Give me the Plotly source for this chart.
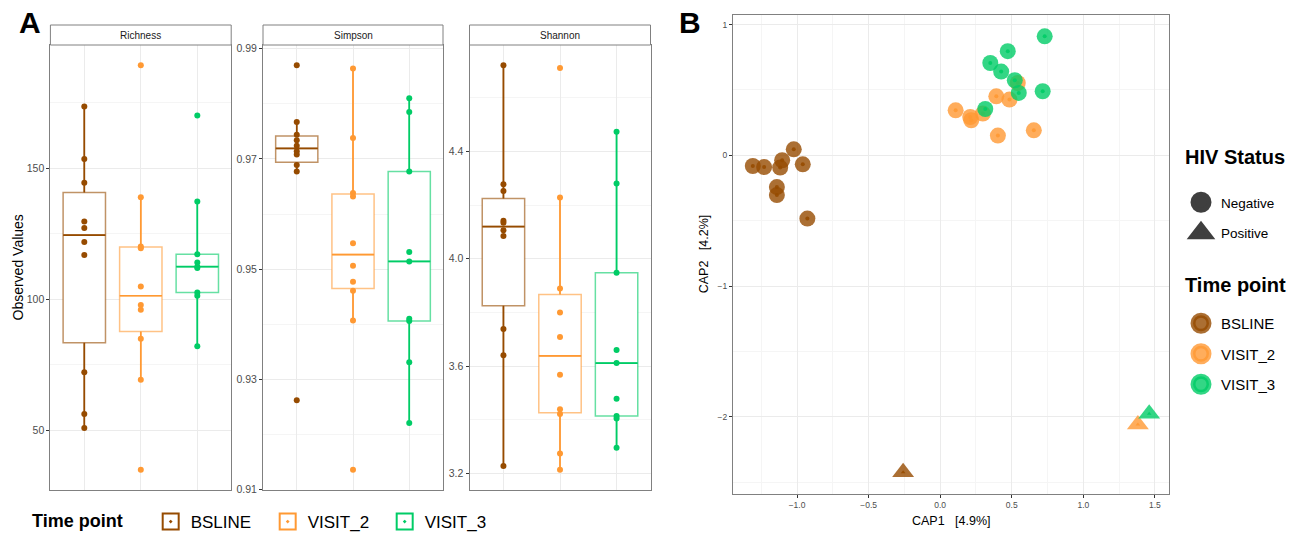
import numpy as np
import plotly.graph_objects as go

W, H = 1306, 538
FONT = "Liberation Sans, Arial, sans-serif"

# ---------------- data ----------------
time_points = ["BSLINE", "VISIT_2", "VISIT_3"]
tp_rgb = [(150, 75, 0), (255, 153, 51), (0, 204, 102)]
metrics = ["Richness", "Simpson", "Shannon"]

richness_bsline = [173.6, 153.6, 144.5, 129.7, 127.2, 121.8, 116.9, 72.1, 56.1, 50.8]
richness_visit2 = [189.4, 138.9, 120.1, 119.5, 104.8, 97.8, 96.0, 84.9, 69.2, 34.8]
richness_visit3 = [170.2, 137.3, 117.2, 114.0, 112.4, 111.9, 102.5, 101.3, 82.0]

simpson_bsline = [0.9870, 0.9767, 0.9744, 0.9734, 0.9724, 0.9714, 0.9708, 0.9689, 0.9677, 0.9262]
simpson_visit2 = [0.9864, 0.9738, 0.9638, 0.9632, 0.9547, 0.9506, 0.9477, 0.9461, 0.9407, 0.9136]
simpson_visit3 = [0.9810, 0.9785, 0.9677, 0.9531, 0.9514, 0.9410, 0.9406, 0.9331, 0.9221]

shannon_bsline = [4.722, 4.278, 4.253, 4.142, 4.134, 4.106, 4.085, 3.738, 3.640, 3.227]
shannon_visit2 = [4.712, 4.229, 3.889, 3.800, 3.708, 3.567, 3.439, 3.421, 3.274, 3.213]
shannon_visit3 = [4.474, 4.281, 3.948, 3.660, 3.611, 3.478, 3.414, 3.404, 3.295]

alpha_values = {
    "Richness": [richness_bsline, richness_visit2, richness_visit3],
    "Simpson": [simpson_bsline, simpson_visit2, simpson_visit3],
    "Shannon": [shannon_bsline, shannon_visit2, shannon_visit3],
}

cap_time = ["BSLINE"] * 10 + ["VISIT_2"] * 10 + ["VISIT_3"] * 9
cap_hiv = (["Negative"] * 9 + ["Positive"]) + (["Negative"] * 9 + ["Positive"]) + (["Negative"] * 8 + ["Positive"])
cap1 = [-1.309, -1.230, -1.118, -1.104, -1.023, -0.960, -1.141, -1.141, -0.928, -0.259,
        0.108, 0.210, 0.217, 0.298, 0.392, 0.484, 0.542, 0.403, 0.654, 1.381,
        0.730, 0.472, 0.350, 0.426, 0.521, 0.549, 0.716, 0.315, 1.460]
cap2 = [-0.082, -0.090, -0.094, -0.038, 0.046, -0.069, -0.243, -0.304, -0.484, -2.423,
        0.344, 0.293, 0.268, 0.319, 0.451, 0.426, 0.553, 0.151, 0.191, -2.058,
        0.910, 0.796, 0.706, 0.640, 0.574, 0.477, 0.490, 0.354, -1.976]
hiv_levels = ["Negative", "Positive"]
hiv_symbols = ["circle", "triangle-up"]

# ---------------- layout constants ----------------
def rgba(c, a):
    return "rgba(%d,%d,%d,%.3f)" % (c[0], c[1], c[2], a)

def px_x(v):
    return v / W

def px_y(v):
    return 1 - v / H

A_x = [(50.4, 231.2), (263.0, 443.0), (469.5, 650.5)]
A_y = (45.0, 490.0)
STRIP = (25.0, 45.0)
B_x = (733.0, 1169.0)
B_y = (14.5, 494.0)

GRID = "#EBEBEB"
MINOR = "#F5F5F5"
BORDER = "#808080"
TICKC = "#4D4D4D"

fig = go.Figure()

ytick_cfg = {
    "Richness": dict(tick0=0, dtick=50, minor=25, fmt="d"),
    "Simpson": dict(tick0=0.91, dtick=0.02, minor=0.01, fmt=".2f"),
    "Shannon": dict(tick0=0, dtick=0.4, minor=0.2, fmt=".1f"),
}

def expand(vals, frac=0.05):
    lo, hi = min(vals), max(vals)
    d = (hi - lo) * frac
    return [lo - d, hi + d]

layout_axes = {}
annotations = []
shapes = []

for k, m in enumerate(metrics):
    ax = "" if k == 0 else str(k + 1)
    xref, yref = "x" + ax, "y" + ax
    groups = alpha_values[m]
    for i, (tp, vals) in enumerate(zip(time_points, groups)):
        c = tp_rgb[i]
        v = np.array(vals, dtype=float)
        q1, med, q3 = np.percentile(v, [25, 50, 75])
        iqr = q3 - q1
        hi = v[v <= q3 + 1.5 * iqr].max()
        lo = v[v >= q1 - 1.5 * iqr].min()
        fig.add_trace(go.Box(
            x=[i], q1=[q1], median=[med], q3=[q3], lowerfence=[lo], upperfence=[hi],
            width=0.75, whiskerwidth=0, boxpoints=False,
            fillcolor="white", line=dict(color=rgba(c, 0.6), width=1.5),
            xaxis=xref, yaxis=yref, showlegend=False, hoverinfo="skip"))
        # whiskers and median in full colour
        fig.add_trace(go.Scatter(
            x=[i, i, None, i, i, None, i - 0.375, i + 0.375],
            y=[q3, hi, None, q1, lo, None, med, med],
            mode="lines", line=dict(color=rgba(c, 1), width=1.7),
            xaxis=xref, yaxis=yref, showlegend=False, hoverinfo="skip"))
        fig.add_trace(go.Scatter(
            x=[i] * len(vals), y=vals, mode="markers",
            marker=dict(color=rgba(c, 1), size=6),
            xaxis=xref, yaxis=yref, showlegend=False, name=tp))
    all_vals = sum(groups, [])
    cfg = ytick_cfg[m]
    layout_axes["xaxis" + ax] = dict(
        domain=[px_x(A_x[k][0]), px_x(A_x[k][1])], range=[-0.6, 2.6],
        tickvals=list(range(len(time_points))), showticklabels=False, ticks="",
        showgrid=True, gridcolor=GRID, gridwidth=1, zeroline=False,
        showline=True, mirror=True, linecolor=BORDER, linewidth=1, anchor=yref)
    layout_axes["yaxis" + ax] = dict(
        domain=[px_y(A_y[1]), px_y(A_y[0])], range=expand(all_vals),
        tick0=cfg["tick0"], dtick=cfg["dtick"], tickformat=cfg["fmt"],
        minor=dict(tick0=cfg["tick0"], dtick=cfg["minor"], showgrid=True, gridcolor=MINOR, gridwidth=1, ticks=""),
        showgrid=True, gridcolor=GRID, gridwidth=1, zeroline=False,
        ticks="outside", ticklen=3, tickcolor="#333333", tickwidth=1,
        tickfont=dict(size=10.5, color=TICKC, family=FONT),
        showline=True, mirror=True, linecolor=BORDER, linewidth=1, anchor=xref)
    # strip
    shapes.append(dict(type="rect", xref=xref + " domain", x0=0, x1=1, yref="paper",
                       y0=px_y(STRIP[1]), y1=px_y(STRIP[0]), fillcolor="white",
                       line=dict(color=BORDER, width=1), layer="above"))
    annotations.append(dict(text=m, xref=xref + " domain", x=0.5, yref="paper",
                            y=px_y((STRIP[0] + STRIP[1]) / 2), xanchor="center", yanchor="middle",
                            showarrow=False, font=dict(size=10, color="#1A1A1A", family=FONT)))

# ---------------- panel B ----------------
for i, tp in enumerate(time_points):
    c = tp_rgb[i]
    for h, hv in enumerate(hiv_levels):
        idx = [j for j in range(len(cap1)) if cap_time[j] == tp and cap_hiv[j] == hv]
        xs = [cap1[j] for j in idx]
        ys = [cap2[j] for j in idx]
        big = 16 if hv == "Negative" else 19
        fig.add_trace(go.Scatter(
            x=xs, y=ys, mode="markers", name=tp,
            marker=dict(symbol=hiv_symbols[h], size=big, color=rgba(c, 0.8), line=dict(width=0)),
            xaxis="x4", yaxis="y4", showlegend=False))
        fig.add_trace(go.Scatter(
            x=xs, y=ys, mode="markers", name=tp,
            marker=dict(symbol=hiv_symbols[h], size=4, color=rgba(c, 0.9), line=dict(width=0)),
            xaxis="x4", yaxis="y4", showlegend=False, hoverinfo="skip"))

layout_axes["xaxis4"] = dict(
    domain=[px_x(B_x[0]), px_x(B_x[1])], range=expand(cap1),
    tick0=0, dtick=0.5, tickformat=".1f",
    minor=dict(tick0=0, dtick=0.25, showgrid=True, gridcolor=MINOR, gridwidth=1, ticks=""),
    showgrid=True, gridcolor=GRID, gridwidth=1, zeroline=False,
    ticks="outside", ticklen=3, tickcolor="#333333",
    tickfont=dict(size=8.5, color=TICKC, family=FONT),
    showline=True, mirror=True, linecolor=BORDER, linewidth=1, anchor="y4")
layout_axes["yaxis4"] = dict(
    domain=[px_y(B_y[1]), px_y(B_y[0])], range=expand(cap2),
    tick0=0, dtick=1, tickformat="d",
    minor=dict(tick0=0, dtick=0.5, showgrid=True, gridcolor=MINOR, gridwidth=1, ticks=""),
    showgrid=True, gridcolor=GRID, gridwidth=1, zeroline=False,
    ticks="outside", ticklen=3, tickcolor="#333333",
    tickfont=dict(size=8.5, color=TICKC, family=FONT),
    showline=True, mirror=True, linecolor=BORDER, linewidth=1, anchor="x4")

# ---------------- legend-only entries ----------------
for i, tp in enumerate(time_points):
    c = tp_rgb[i]
    fig.add_trace(go.Scatter(
        x=[None], y=[None], mode="markers", name=tp, legend="legend",
        marker=dict(symbol="square-open-dot", size=16, color=rgba(c, 1), line=dict(width=2, color=rgba(c, 1))),
        xaxis="x", yaxis="y", hoverinfo="skip"))

for h, hv in enumerate(hiv_levels):
    fig.add_trace(go.Scatter(
        x=[None], y=[None], mode="markers", name=hv, legend="legend2", legendgroup="hiv" + hv,
        marker=dict(symbol=hiv_symbols[h], size=16, color="#3F3F3F", line=dict(width=5, color="#3F3F3F")),
        xaxis="x4", yaxis="y4", hoverinfo="skip"))

for i, tp in enumerate(time_points):
    c = tp_rgb[i]
    fig.add_trace(go.Scatter(
        x=[None], y=[None], mode="markers", name=tp, legend="legend3", legendgroup="tp" + tp,
        marker=dict(symbol="circle", size=16, color=rgba(c, 0.8), line=dict(width=5, color=rgba(c, 0.8))),
        xaxis="x4", yaxis="y4", hoverinfo="skip"))

# ---------------- titles / labels ----------------
def ann(text, x, y, size, xref="paper", yref="paper", xanchor="center", angle=0, color="black"):
    return dict(text=text, x=x, y=y, xref=xref, yref=yref, xanchor=xanchor, yanchor="middle",
                showarrow=False, textangle=angle, font=dict(size=size, color=color, family=FONT))

annotations += [
    ann("<b>A</b>", px_x(30), px_y(23), 30),
    ann("<b>B</b>", px_x(690), px_y(22), 30),
    ann("Observed Values", px_x(17), px_y((A_y[0] + A_y[1]) / 2), 14, angle=-90),
    ann("CAP1\u00a0\u00a0\u00a0[4.9%]", 0.5, px_y(521), 12.5, xref="x4 domain"),
    ann("CAP2\u00a0\u00a0\u00a0[4.2%]", px_x(704), 0.5, 12.5, yref="y4 domain", angle=-90),
    ann("<b>HIV Status</b>", px_x(1183), px_y(157), 20, xanchor="left"),
    ann("<b>Time point</b>", px_x(1183), px_y(285), 20, xanchor="left"),
]

fig.update_layout(
    width=W, height=H, margin=dict(l=0, r=0, t=0, b=0, autoexpand=False),
    paper_bgcolor="white", plot_bgcolor="white",
    font=dict(family=FONT, color="black"),
    annotations=annotations, shapes=shapes,
    legend=dict(orientation="h", x=px_x(30), xanchor="left", y=px_y(522), yanchor="middle",
                title=dict(text="<b>Time point</b>\u00a0\u00a0\u00a0\u00a0", side="left", font=dict(size=18)),
                font=dict(size=17), bgcolor="rgba(0,0,0,0)", entrywidth=72, entrywidthmode="pixels"),
    legend2=dict(x=px_x(1181), xanchor="left", y=px_y(187), yanchor="top",
                 font=dict(size=13.5), bgcolor="rgba(0,0,0,0)", tracegroupgap=10, traceorder="grouped"),
    legend3=dict(x=px_x(1181), xanchor="left", y=px_y(307), yanchor="top",
                 font=dict(size=15), bgcolor="rgba(0,0,0,0)", tracegroupgap=8, traceorder="grouped"),
    **layout_axes,
)

fig.write_html("out.html")
